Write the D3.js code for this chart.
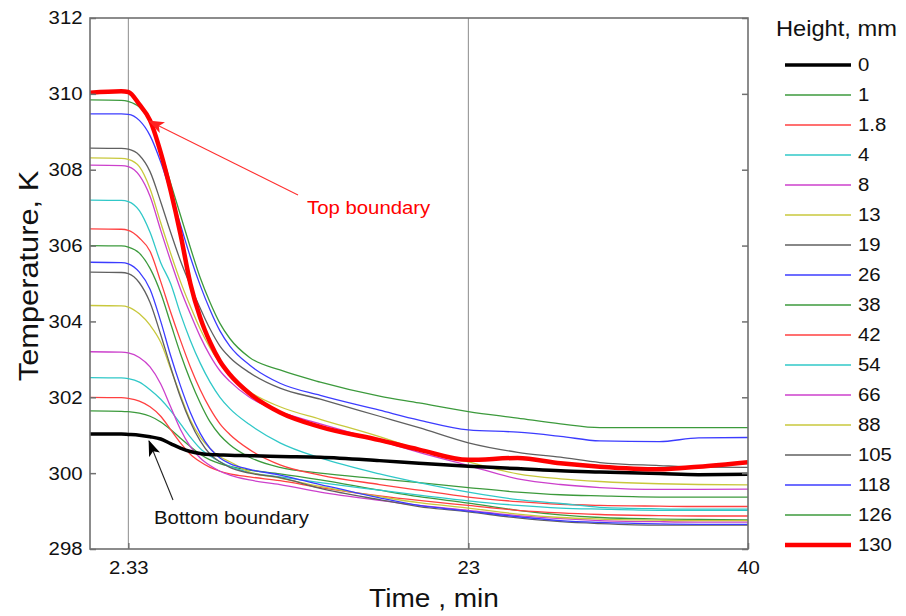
<!DOCTYPE html>
<html>
<head>
<meta charset="utf-8">
<script src="https://cdn.jsdelivr.net/npm/d3@7"></script>
<style>
  html, body { margin: 0; padding: 0; background: #fff; }
  svg { display: block; font-family: "Liberation Sans", Arial, sans-serif; }
</style>
</head>
<body>
<svg id="chart" width="906" height="616"></svg>
<script>
// Sensor heights (legend categories)
const heights = ["0", "1", "1.8", "4", "8", "13", "19", "26", "38", "42", "54", "66", "88", "105", "118", "126", "130"];

// Sample times, min
const times = [0, 1.9, 2.33, 3.0, 3.65, 4.3, 4.9, 5.5, 6.1, 6.7, 7.3, 7.9, 8.5, 9.7, 11.55, 14, 17.6, 20, 23, 26, 28.6, 31, 34.6, 37, 40];

// Temperature, K, at each height
const temp0   = [301.03, 301.03, 301.02, 301.0, 300.96, 300.9, 300.78, 300.66, 300.57, 300.52, 300.49, 300.48, 300.47, 300.46, 300.44, 300.42, 300.33, 300.26, 300.18, 300.12, 300.06, 300.03, 299.99, 299.96, 299.97];
const temp1   = [301.64, 301.63, 301.62, 301.58, 301.5, 301.35, 301.15, 300.92, 300.7, 300.5, 300.35, 300.25, 300.18, 300.08, 299.98, 299.82, 299.55, 299.38, 299.21, 299.02, 298.9, 298.83, 298.79, 298.78, 298.77];
const temp1_8 = [302.0, 301.99, 301.97, 301.9, 301.75, 301.5, 301.15, 300.8, 300.5, 300.3, 300.15, 300.05, 299.98, 299.9, 299.8, 299.62, 299.4, 299.28, 299.15, 299.02, 298.95, 298.91, 298.88, 298.87, 298.87];
const temp4   = [302.52, 302.51, 302.49, 302.4, 302.2, 301.95, 301.65, 301.3, 300.95, 300.65, 300.45, 300.3, 300.18, 300.02, 299.9, 299.75, 299.55, 299.42, 299.27, 299.15, 299.08, 299.05, 299.02, 299.02, 299.02];
const temp8   = [303.2, 303.19, 303.17, 303.05, 302.8, 302.35, 301.75, 301.15, 300.7, 300.4, 300.2, 300.05, 299.95, 299.82, 299.7, 299.5, 299.28, 299.15, 299.02, 298.88, 298.8, 298.75, 298.72, 298.71, 298.71];
const temp13  = [304.42, 304.41, 304.38, 304.2, 303.9, 303.45, 302.75, 302.05, 301.4, 300.95, 300.65, 300.43, 300.3, 300.03, 299.87, 299.65, 299.38, 299.22, 299.08, 298.92, 298.83, 298.79, 298.76, 298.75, 298.75];
const temp19  = [305.3, 305.29, 305.26, 305.02, 304.5, 303.65, 302.8, 302.0, 301.35, 300.85, 300.5, 300.3, 300.15, 300.0, 299.88, 299.6, 299.3, 299.12, 298.98, 298.82, 298.72, 298.67, 298.63, 298.63, 298.63];
const temp26  = [305.56, 305.55, 305.52, 305.3, 304.85, 304.0, 303.1, 302.3, 301.6, 301.05, 300.65, 300.4, 300.25, 300.1, 299.95, 299.7, 299.35, 299.15, 299.0, 298.85, 298.75, 298.7, 298.66, 298.65, 298.65];
const temp38  = [306.0, 305.99, 305.96, 305.8, 305.4, 304.75, 303.95, 303.15, 302.45, 301.85, 301.35, 301.0, 300.75, 300.42, 300.15, 300.0, 299.85, 299.75, 299.62, 299.5, 299.43, 299.4, 299.37, 299.37, 299.37];
const temp42  = [306.44, 306.43, 306.4, 306.2, 305.85, 305.05, 304.25, 303.5, 302.8, 302.2, 301.7, 301.3, 301.02, 300.62, 300.22, 299.95, 299.7, 299.55, 299.37, 299.25, 299.18, 299.15, 299.13, 299.12, 299.12];
const temp54  = [307.2, 307.19, 307.16, 306.92, 306.35, 305.55, 305.0, 304.2, 303.5, 302.9, 302.4, 302.0, 301.7, 301.28, 300.8, 300.4, 299.98, 299.75, 299.5, 299.3, 299.2, 299.1, 299.06, 299.05, 299.05];
const temp66  = [308.12, 308.11, 308.08, 307.85, 307.3, 306.4, 305.6, 304.85, 304.2, 303.6, 303.1, 302.7, 302.42, 302.0, 301.62, 301.3, 300.85, 300.55, 300.2, 299.85, 299.7, 299.62, 299.57, 299.57, 299.58];
const temp88  = [308.31, 308.3, 308.27, 308.08, 307.5, 306.6, 305.8, 305.05, 304.4, 303.8, 303.3, 302.9, 302.6, 302.15, 301.75, 301.42, 300.96, 300.62, 300.3, 299.98, 299.85, 299.78, 299.72, 299.7, 299.69];
const temp105 = [308.57, 308.56, 308.54, 308.38, 307.95, 307.15, 306.35, 305.6, 304.95, 304.35, 303.8, 303.35, 303.05, 302.65, 302.24, 301.95, 301.5, 301.2, 300.8, 300.55, 300.42, 300.28, 300.2, 300.16, 300.15];
const temp118 = [309.47, 309.47, 309.46, 309.3, 308.9, 308.2, 307.4, 306.55, 305.7, 304.95, 304.3, 303.75, 303.35, 302.85, 302.37, 302.05, 301.66, 301.4, 301.14, 301.08, 300.97, 300.85, 300.83, 300.93, 300.94];
const temp126 = [309.84, 309.83, 309.8, 309.65, 309.25, 308.5, 307.65, 306.8, 305.95, 305.15, 304.5, 303.95, 303.55, 303.05, 302.72, 302.4, 302.03, 301.85, 301.62, 301.45, 301.3, 301.2, 301.2, 301.2, 301.2];
const temp130 = [310.03, 310.07, 310.05, 309.72, 309.3, 308.45, 307.45, 306.3, 305.0, 304.1, 303.45, 302.95, 302.6, 302.1, 301.6, 301.22, 300.87, 300.62, 300.35, 300.4, 300.26, 300.17, 300.1, 300.17, 300.29];

const seriesValues = [temp0, temp1, temp1_8, temp4, temp8, temp13, temp19, temp26, temp38, temp42, temp54, temp66, temp88, temp105, temp118, temp126, temp130];

// Axis ticks
const xTicks = [2.33, 23, 40];
const xTickLabels = ["2.33", "23", "40"];
const yTicks = [298, 300, 302, 304, 306, 308, 310, 312];

// Styling
const lineColors = ["#000000", "#3c9a3c", "#ff4040", "#30c8c8", "#cc40cc", "#c8c83c", "#606060", "#3c3cff",
                    "#3c9a3c", "#ff4040", "#30c8c8", "#cc40cc", "#c8c83c", "#606060", "#3c3cff", "#3c9a3c", "#ff0000"];
const lineWidths = heights.map(h => h === "0" ? 3.5 : h === "130" ? 4.5 : 1.3);
const textStretch = 1.1; // glyphs are drawn slightly wide

const svg = d3.select("#chart");
const plot = { left: 90, right: 748, top: 18, bottom: 549 };

const x = d3.scaleLinear().domain([0, 40]).range([plot.left, plot.right]);
const y = d3.scaleLinear().domain([298, 312]).range([plot.bottom, plot.top]);

const series = heights.map((h, i) => ({
  name: h,
  color: lineColors[i],
  width: lineWidths[i],
  points: times.map((t, j) => ({ t, v: seriesValues[i][j] }))
}));

// text helper: positioned with a transform so the horizontal stretch keeps the anchor
function addText(parent, px, py, str, size, opts = {}) {
  const rot = opts.rotate ? ` rotate(${opts.rotate})` : "";
  return parent.append("text")
    .attr("transform", `translate(${px},${py})${rot} scale(${textStretch},1)`)
    .attr("text-anchor", opts.anchor || "start")
    .attr("dy", opts.dy || null)
    .style("font-size", size + "px")
    .attr("fill", opts.fill || "#111")
    .text(str);
}

const defs = svg.append("defs");
defs.append("clipPath").attr("id", "plotClip")
  .append("rect")
  .attr("x", plot.left).attr("y", plot.top)
  .attr("width", plot.right - plot.left).attr("height", plot.bottom - plot.top);

// vertical reference lines at 2.33 and 23 min
svg.append("g").selectAll("line").data([2.33, 23]).join("line")
  .attr("x1", d => x(d)).attr("x2", d => x(d))
  .attr("y1", plot.top).attr("y2", plot.bottom)
  .attr("stroke", "#8c8c8c").attr("stroke-width", 1);

const line = d3.line().x(d => x(d.t)).y(d => y(d.v)).curve(d3.curveMonotoneX);

// thin series first, then the two boundary curves on top
const drawOrder = series.slice(1, 16).concat([series[0], series[16]]);
svg.append("g").attr("clip-path", "url(#plotClip)")
  .selectAll("path").data(drawOrder).join("path")
  .attr("d", d => line(d.points))
  .attr("fill", "none")
  .attr("stroke", d => d.color)
  .attr("stroke-width", d => d.width)
  .attr("stroke-linejoin", "round");

// axes: ticks point inward
const axisColor = "#707070";
const yAxisL = d3.axisLeft(y).tickValues(yTicks).tickSizeInner(-6).tickSizeOuter(0).tickPadding(7.5).tickFormat(d3.format("d"));
const gyl = svg.append("g").attr("transform", `translate(${plot.left},0)`).call(yAxisL);
const yAxisR = d3.axisRight(y).tickValues(yTicks).tickSizeInner(-6).tickSizeOuter(0).tickFormat("");
const gyr = svg.append("g").attr("transform", `translate(${plot.right},0)`).call(yAxisR);
const xAxisB = d3.axisBottom(x).tickValues(xTicks).tickSizeInner(-6).tickSizeOuter(0).tickPadding(12)
  .tickFormat((d, i) => xTickLabels[i]);
const gxb = svg.append("g").attr("transform", `translate(0,${plot.bottom})`).call(xAxisB);

[gyl, gyr, gxb].forEach(g => {
  g.select(".domain").remove();
  g.selectAll(".tick line").attr("stroke", axisColor).attr("stroke-width", 1.5);
  g.selectAll(".tick text")
    .attr("fill", "#111")
    .attr("transform", `scale(${textStretch},1)`)
    .style("font-size", "18.5px")
    .style("font-family", "'Liberation Sans', Arial, sans-serif");
});
gyl.selectAll(".tick text").attr("x", -7.5 / textStretch);

// frame
svg.append("rect")
  .attr("x", plot.left).attr("y", plot.top)
  .attr("width", plot.right - plot.left).attr("height", plot.bottom - plot.top)
  .attr("fill", "none").attr("stroke", axisColor).attr("stroke-width", 1.6);

// axis titles
addText(svg, 434, 607, "Time , min", 25.5, { anchor: "middle" });
addText(svg, 38, 276, "Temperature, K", 28, { anchor: "middle", rotate: -90 });

// legend
const legend = svg.append("g");
addText(legend, 776, 36, "Height, mm", 21.5);
const rows = legend.selectAll("g.row").data(series).join("g")
  .attr("class", "row")
  .attr("transform", (d, i) => `translate(0,${65 + i * 30})`);
rows.append("line")
  .attr("x1", 785).attr("x2", 851).attr("y1", 0).attr("y2", 0)
  .attr("stroke", d => d.color).attr("stroke-width", d => d.width);
rows.each(function (d) {
  addText(d3.select(this), 858, 0, d.name, 18.5, { dy: "0.35em" });
});

// annotations
[["arrowRed", "#ff2020"], ["arrowBlack", "#000"]].forEach(([id, c]) => {
  defs.append("marker").attr("id", id)
    .attr("viewBox", "0 0 16 12").attr("refX", 15).attr("refY", 6)
    .attr("markerWidth", 16).attr("markerHeight", 12).attr("markerUnits", "userSpaceOnUse")
    .attr("orient", "auto")
    .append("path").attr("d", "M0,0 L16,6 L0,12 L4,6 Z").attr("fill", c);
});

svg.append("line")
  .attr("x1", 298).attr("y1", 195).attr("x2", 149).attr("y2", 121)
  .attr("stroke", "#ff3030").attr("stroke-width", 1.1)
  .attr("marker-end", "url(#arrowRed)");
addText(svg, 307, 214, "Top boundary", 18.5, { fill: "#ff0000" });

svg.append("line")
  .attr("x1", 173).attr("y1", 500).attr("x2", 149).attr("y2", 441)
  .attr("stroke", "#222").attr("stroke-width", 1.1)
  .attr("marker-end", "url(#arrowBlack)");
addText(svg, 154, 524, "Bottom boundary", 18.5);
</script>
</body>
</html>
